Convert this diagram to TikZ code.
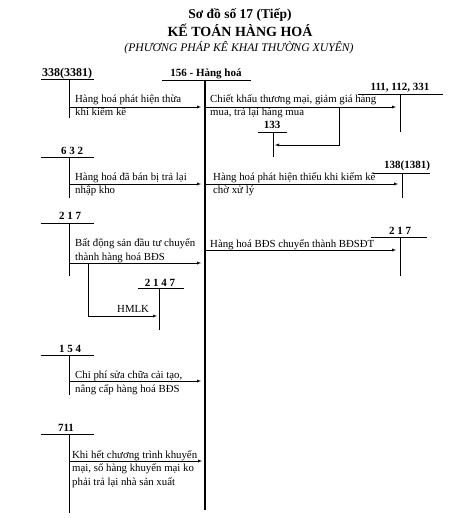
\documentclass[tikz,border=0pt]{standalone}
\usepackage{fontspec}
\setmainfont{Liberation Serif}
\begin{document}
\begin{tikzpicture}[x=1pt,y=-1pt,>=latex,
    sohieu/.style={font=\bfseries\fontsize{11}{12}\selectfont,inner sep=0pt,anchor=base},
    noidung/.style={font=\fontsize{10.8}{13.5}\selectfont,inner sep=0pt,anchor=base west,align=left},
    tieude/.style={inner sep=0pt,anchor=base}]
        \useasboundingbox (0,0) rectangle (472,518);
        % Tieu de
        \node[tieude,font=\bfseries\fontsize{13.5}{15}\selectfont] (td1) at (240,19) {Sơ đồ số 17 (Tiếp)};
        \node[tieude,font=\bfseries\fontsize{14}{16}\selectfont] (td2) at (240,37) {KẾ TOÁN HÀNG HOÁ};
        \node[tieude,font=\itshape\fontsize{11.7}{13}\selectfont] (td3) at (239,52) {(PHƯƠNG PHÁP KÊ KHAI THƯỜNG XUYÊN)};
        % Tai khoan
        \node[sohieu,font=\bfseries\fontsize{12}{13}\selectfont] (tk338) at (67,77) {338(3381)};
        \draw (41,79) -- (94,79);
        \draw (69,79) -- (69,118);
        \node[sohieu] (tk156) at (206,77) {156 - Hàng hoá};
        \draw (162,80) -- (251,80);
        \draw [line width=1.1pt] (205,80) -- (205,510);
        \node[sohieu] (tk111) at (400,91) {111, 112, 331};
        \draw (358,94) -- (443,94);
        \draw (400,94) -- (400,132);
        \node[sohieu] (tk133) at (272,129) {133};
        \draw (258,132) -- (287,132);
        \draw (273,132) -- (273,157);
        \node[sohieu] (tk632) at (72,155) {6 3 2};
        \draw (41,157) -- (94,157);
        \draw (69,157) -- (69,198);
        \node[sohieu] (tk1381) at (407,169) {138(1381)};
        \draw (373,173) -- (430,173);
        \draw (402,173) -- (402,198);
        \node[sohieu] (tk217a) at (70,220) {2 1 7};
        \draw (41,223) -- (94,223);
        \draw (69,223) -- (69,276);
        \node[sohieu] (tk217b) at (400,234) {2 1 7};
        \draw (371,237) -- (427,237);
        \draw (400,237) -- (400,276);
        \node[sohieu] (tk2147) at (160,286) {2 1 4 7};
        \draw (138,288) -- (184,288);
        \draw (159,288) -- (159,330);
        \node[sohieu] (tk154) at (70,352) {1 5 4};
        \draw (41,355) -- (94,355);
        \draw (69,355) -- (69,395);
        \node[sohieu] (tk711) at (66,431) {711};
        \draw (41,434) -- (94,434);
        \draw (69,434) -- (69,513);
        % Diem
        \coordinate (a1) at (69,107);   \coordinate (b1) at (201,107);
        \coordinate (a2) at (205,107);  \coordinate (b2) at (396,107);
        \coordinate (r2) at (339,107);  \coordinate (s2) at (339,145);
        \coordinate (b133) at (275,145);
        \coordinate (a3) at (69,184);   \coordinate (b3) at (201,184);
        \coordinate (a4) at (205,184);  \coordinate (b4) at (398,184);
        \coordinate (a5) at (69,263);   \coordinate (b5) at (201,263);
        \coordinate (r5) at (88,263);   \coordinate (s5) at (88,316);
        \coordinate (b2147) at (157,316);
        \coordinate (a6) at (205,250);  \coordinate (b6) at (396,250);
        \coordinate (a7) at (69,381);   \coordinate (b7) at (201,381);
        \coordinate (a8) at (69,461);   \coordinate (b8) at (202,461);
        % Mui ten
        \draw [->] (a1) -- (b1);
        \draw [->] (a2) -- (b2);
        \draw [->] (r2) -- (s2) -- (b133);
        \draw [->] (a3) -- (b3);
        \draw [->] (a4) -- (b4);
        \draw [->] (a5) -- (b5);
        \draw [->] (r5) -- (s5) -- (b2147);
        \draw [->] (a6) -- (b6);
        \draw [->] (a7) -- (b7);
        \draw [->] (a8) -- (b8);
        % Noi dung (toa do la dong cuoi)
        \node[noidung] (nd1) at (75,116) {Hàng hoá phát hiện thừa\\khi kiểm kê};
        \node[noidung] (nd2) at (210,116) {Chiết khấu thương mại, giảm giá hàng\\mua, trả lại hàng mua};
        \node[noidung] (nd3) at (75,194) {Hàng hoá đã bán bị trả lại\\nhập kho};
        \node[noidung] (nd4) at (213,194) {Hàng hoá phát hiện thiếu khi kiểm kê\\chờ xử lý};
        \node[noidung] (nd5) at (75,260) {Bất động sản đầu tư chuyển\\thành hàng hoá BĐS};
        \node[noidung] (nd6) at (117,312) {HMLK};
        \node[noidung] (nd7) at (210,247) {Hàng hoá BĐS chuyển thành BĐSĐT};
        \node[noidung] (nd8) at (75,392) {Chi phí sửa chữa cải tạo,\\nâng cấp hàng hoá BĐS};
        \node[noidung] (nd9) at (72,485) {Khi hết chương trình khuyến\\mại, số hàng khuyến mại ko\\phải trả lại nhà sản xuất};
\end{tikzpicture}
\end{document}
